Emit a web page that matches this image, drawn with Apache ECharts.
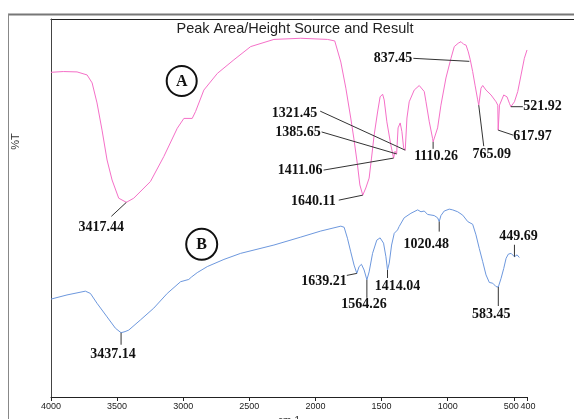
<!DOCTYPE html>
<html>
<head>
<meta charset="utf-8">
<script src="https://cdn.jsdelivr.net/npm/echarts@6/dist/echarts.min.js"></script>
<style>html,body{margin:0;padding:0;background:#fff;}#c{width:574px;height:419px;}</style>
</head>
<body>
<div id="c"></div>
<script>
// ---- data (wavenumber cm-1, transmittance-like %T scale 0..100) ----
const xTicks = [4000, 3500, 3000, 2500, 2000, 1500, 1000, 500, 400];

const pinkWn = [4000,3907,3803,3727,3689,3652,3614,3576,3538,3488,3430,3374,3248,3147,3045,2995,2932,2907,2844,2742,2617,2490,2314,2111,1909,1854,1839,1808,1770,1733,1710,1682,1664,1642,1619,1594,1576,1556,1530,1511,1492,1480,1460,1430,1409,1398,1386,1375,1359,1346,1333,1321,1308,1291,1253,1215,1177,1164,1139,1114,1110,1076,1051,1013,975,950,920,899,879,861,844,829,811,793,773,765,748,735,710,672,634,621,618,608,576,551,533,522,495,470,445,420,400];
const pinkT = [85.9,86.1,86.0,85.2,83.1,77.8,70.6,62.7,57.4,52.6,51.5,52.6,57.0,63.6,71.1,73.7,73.7,75.5,81.2,85.6,89.2,92.7,94.6,94.9,94.6,94.2,93.7,88.6,81.7,73.8,68.5,61.4,56.1,53.4,55.3,57.9,63.2,69.3,75.4,79.4,80.1,78.6,72.8,66.7,63.2,65.0,64.3,71.2,72.5,70.2,65.9,65.3,73.8,78.1,81.2,82.4,80.8,78.1,72.8,68.4,67.5,71.2,77.2,84.4,89.6,92.7,93.6,94.0,93.3,93.1,91.3,89.2,86.1,82.5,78.6,77.2,81.7,82.4,81.2,79.9,78.1,77.2,70.6,77.2,79.9,79.4,77.7,76.8,78.1,80.8,85.2,89.6,91.8];

const blueWn = [4000,3879,3740,3702,3652,3576,3513,3470,3440,3412,3323,3223,3121,3020,2958,2939,2894,2818,2692,2566,2314,2111,1960,1808,1783,1758,1733,1708,1687,1670,1652,1632,1611,1594,1568,1536,1511,1485,1467,1455,1442,1424,1404,1379,1367,1329,1278,1227,1202,1177,1152,1139,1102,1076,1064,1051,1026,988,962,924,886,848,811,786,761,735,710,685,659,634,617,596,576,558,541,520,495,475,458];
const blueT = [25.9,27.0,28.0,27.4,24.8,21.2,18.2,17.0,17.3,17.7,20.4,23.5,27.4,30.5,31.1,31.7,32.9,34.5,36.4,38.0,40.2,42.3,43.9,45.2,44.9,42.0,38.4,34.9,32.7,34.5,35.1,33.6,31.0,33.1,38.0,41.5,42.1,40.7,37.1,33.6,35.4,40.2,43.3,44.2,45.1,47.4,48.6,49.5,49.0,49.2,48.3,48.1,48.0,47.4,46.4,48.0,49.2,49.7,49.5,49.0,48.1,46.4,45.7,42.9,39.3,35.8,32.3,30.3,30.1,29.2,29.1,31.4,34.0,36.7,37.8,38.0,37.1,37.6,36.9];

// peak annotations (anchor on curve)
const annText = ['3417.44','1640.11','1411.06','1385.65','1321.45','1110.26','837.45','765.09','617.97','521.92','3437.14','1639.21','1564.26','1414.04','1020.48','583.45','449.69'];
const annWn = [3430,1642,1409,1386,1321,1110,836,765,618,522,3470,1687,1611,1455,1064,617,495];
const annT = [51.5,53.4,63.2,64.3,65.3,67.5,88.8,77.2,70.6,76.8,17.0,32.7,31.0,33.6,46.4,29.1,37.1];

// ---- layout of annotation labels (pixel offsets from anchor) ----
const annLayout = [
  {l:[-15,14], t:[-25,25], a:'center'},
  {l:[-24,5], t:[-27,6], a:'right'},
  {l:[-70,12], t:[-71,12], a:'right'},
  {l:[-75,-22], t:[-76,-22], a:'right'},
  {l:[-85,-39], t:[-88,-37], a:'right'},
  {l:[0,7], t:[3,15], a:'center'},
  {l:[-56,-3], t:[-57,-3], a:'right'},
  {l:[5,41], t:[13,49], a:'center'},
  {l:[15,5], t:[15,6.5], a:'left'},
  {l:[12,0], t:[12.5,-0.5], a:'left'},
  {l:[0,12], t:[-8,22], a:'center'},
  {l:[-10,2], t:[-10,8], a:'right'},
  {l:[0,18], t:[-3,25], a:'center'},
  {l:[0,8], t:[10,16], a:'center'},
  {l:[0,10], t:[-13,23], a:'center'},
  {l:[0,19], t:[-7,27], a:'center'},
  {l:[0,-12], t:[4,-20], a:'center'}
];

const zip = (a, b) => a.map((v, i) => [v, b[i]]);
const annData = annWn.map((w, i) => [w, annT[i], i]);
const mainLabels = xTicks.filter(v => v !== 400);
const endLabels = [400];
const labelFont = {fontFamily: 'Liberation Sans', fontSize: 9, color: '#222'};

const chart = echarts.init(document.getElementById('c'), null, {renderer: 'canvas'});
chart.setOption({
  animation: false,
  backgroundColor: '#fff',
  grid: {left: 51, right: 47, top: 19, bottom: 22, containLabel: false, outerBoundsMode: 'none'},
  xAxis: [{
    type: 'value', min: 400, max: 4000, inverse: true, position: 'bottom',
    name: 'cm-1', nameLocation: 'middle', nameGap: 15,
    nameTextStyle: {fontFamily: 'Liberation Sans', fontSize: 10, color: '#333'},
    axisLine: {lineStyle: {color: '#222', width: 1}},
    axisTick: {show: true, length: 4, customValues: xTicks, lineStyle: {color: '#222'}},
    axisLabel: Object.assign({customValues: mainLabels, margin: 5, hideOverlap: false,
      formatter: v => (v === 500 ? '{s|500}' : String(v)),
      rich: {s: Object.assign({padding: [0, 5, 0, 0]}, labelFont)}}, labelFont),
    splitLine: {show: false}
  }, {
    type: 'value', min: 400, max: 4000, inverse: true, position: 'bottom', offset: 0,
    axisLine: {show: false}, axisTick: {show: false}, splitLine: {show: false},
    axisLabel: Object.assign({customValues: endLabels, margin: 5, hideOverlap: false,
      formatter: v => '{e|' + v + '}',
      rich: {e: Object.assign({padding: [0, 0, 0, 2]}, labelFont)}}, labelFont)
  }],
  yAxis: {
    type: 'value', min: 0, max: 100,
    axisLine: {show: true, lineStyle: {color: '#444', width: 1}},
    axisTick: {show: false}, axisLabel: {show: false}, splitLine: {show: false}
  },
  series: [
    {type: 'line', data: zip(pinkWn, pinkT), showSymbol: false, lineStyle: {color: '#f570c8', width: 1}, z: 3},
    {type: 'line', data: zip(blueWn, blueT), showSymbol: false, lineStyle: {color: '#6d98de', width: 1}, z: 3},
    {
      type: 'custom', data: annData, z: 5, clip: false,
      encode: {x: 0, y: 1},
      renderItem: function (params, api) {
        const p = api.coord([api.value(0), api.value(1)]);
        const L = annLayout[params.dataIndex];
        return {
          type: 'group',
          children: [
            {type: 'line', shape: {x1: p[0], y1: p[1], x2: p[0] + L.l[0], y2: p[1] + L.l[1]},
             style: {stroke: '#333', lineWidth: 1}},
            {type: 'text', x: p[0] + L.t[0], y: p[1] + L.t[1],
             style: {text: annText[params.dataIndex], fill: '#111',
                     font: 'bold 14px "Liberation Serif", "Times New Roman", serif',
                     textAlign: L.a, textVerticalAlign: 'middle'}}
          ]
        };
      }
    }
  ],
  graphic: [
    {type: 'line', shape: {x1: 8, y1: 14.5, x2: 574, y2: 14.5}, style: {stroke: '#777', lineWidth: 2}},
    {type: 'line', shape: {x1: 8.5, y1: 14, x2: 8.5, y2: 419}, style: {stroke: '#888', lineWidth: 1}},
    {type: 'line', shape: {x1: 50.5, y1: 19.5, x2: 574, y2: 19.5}, style: {stroke: '#222', lineWidth: 1}},
    {type: 'text', x: 295, y: 28.5, style: {text: 'Peak Area/Height Source and Result', fill: '#222',
      font: '14.5px "Liberation Sans", Arial, sans-serif', textAlign: 'center', textVerticalAlign: 'middle'}},
    {type: 'text', x: 16, y: 141.5, rotation: Math.PI / 2, style: {text: '%T', fill: '#333',
      font: '11px "Liberation Sans", Arial, sans-serif', textAlign: 'center', textVerticalAlign: 'middle'}},
    {type: 'circle', shape: {cx: 181.7, cy: 81, r: 15}, style: {fill: 'none', stroke: '#111', lineWidth: 2}},
    {type: 'text', x: 181.7, y: 81.5, style: {text: 'A', fill: '#111',
      font: 'bold 16px "Liberation Serif", serif', textAlign: 'center', textVerticalAlign: 'middle'}},
    {type: 'circle', shape: {cx: 201.7, cy: 244.3, r: 15.5}, style: {fill: 'none', stroke: '#111', lineWidth: 2}},
    {type: 'text', x: 201.7, y: 244.8, style: {text: 'B', fill: '#111',
      font: 'bold 16px "Liberation Serif", serif', textAlign: 'center', textVerticalAlign: 'middle'}}
  ]
});
</script>
</body>
</html>
